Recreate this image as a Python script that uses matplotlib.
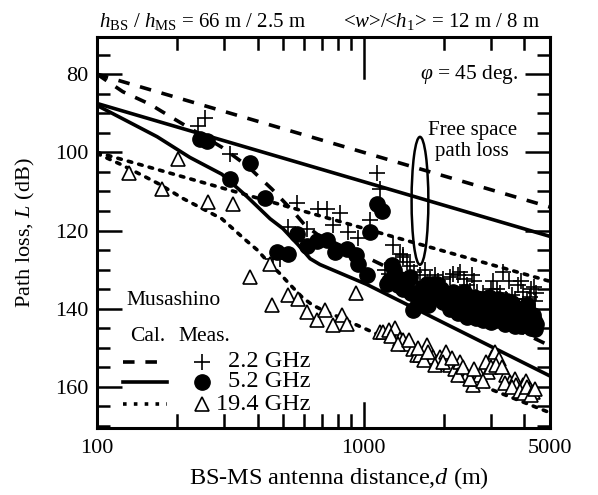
import matplotlib
matplotlib.use("Agg")
import matplotlib.pyplot as plt
import matplotlib.ticker as mticker
from matplotlib.patches import Ellipse
from matplotlib.lines import Line2D

plt.rcParams["font.family"] = ["Liberation Serif", "DejaVu Serif"]
plt.rcParams["mathtext.fontset"] = "custom"
plt.rcParams["mathtext.rm"] = "Liberation Serif"
plt.rcParams["mathtext.it"] = "Liberation Serif:italic"

# --------- data ---------
# free space path loss, straight lines on log axis
fs_d = [100, 5000]
fs_22 = [80.0, 114.0]
fs_52 = [87.5, 121.5]
fs_194 = [100.0, 133.0]

# calculated (model) curves
cal22_d = [100, 125, 158, 193, 294, 368, 453, 544, 600, 680, 1000, 5000]
cal22_L = [80.0, 84.5, 87.7, 91.3, 98.7, 103.6, 109.4, 115.1, 118.5, 121.3, 126.5, 149.5]

cal52_d = [100, 168, 223, 294, 365, 446, 498, 567, 630, 686, 1029, 5000]
cal52_L = [88.0, 96.0, 101.3, 105.6, 111.3, 117.0, 119.5, 123.6, 127.2, 128.7, 133.8, 157.2]

cal194_d = [100, 122, 151, 172, 210, 260, 294, 323, 359, 398, 438, 485, 529, 587,
            641, 718, 800, 930, 1100, 2000, 3050, 5000]
cal194_L = [100.3, 103.0, 106.2, 108.2, 111.8, 115.1, 117.0, 119.5, 122.3, 124.9, 128.0,
            131.0, 133.8, 137.0, 139.0, 140.7, 142.0, 144.0, 146.2, 154.5, 160.8, 166.6]

# measured 2.2 GHz
m22_d = [239, 254, 316, 457, 485, 520, 563, 612, 675, 730, 768, 815, 872, 950, 1055,
         1126, 1150, 1290, 1367, 1400, 1490, 1630, 1770, 1407, 1590, 1200, 1250, 1320,
         1900, 1990, 2100, 2165, 2250, 2370, 2450, 2600, 2670, 2740, 2900, 3000, 3160,
         3330, 3430, 3600, 3800, 3960, 4100, 4200, 4350, 4400,
         2000, 2300, 2500, 2550, 2800, 3050, 3250, 3500, 3700, 3900, 4250, 4450, 1700,
         1850, 1550, 1450]
m22_L = [93.3, 91.3, 100.5, 127.2, 127.4, 119.0, 113.0, 119.5, 114.6, 114.6, 118.5,
         115.6, 120.3, 122.0, 117.2, 105.4, 109.5, 123.6, 125.9, 126.7, 129.2, 131.3,
         132.3, 126.2, 133.8, 130.0, 131.0, 132.0, 133.0, 132.3, 132.0, 131.0, 131.5,
         132.3, 134.0, 133.0, 135.6, 137.4, 138.2, 135.0, 134.9, 130.5, 137.4, 136.5,
         134.0, 135.6, 137.4, 137.0, 134.5, 138.0,
         134.5, 130.5, 135.5, 131.5, 136.0, 133.0, 136.0, 133.0, 137.5, 133.0, 135.0,
         136.0, 130.0, 131.5, 130.5, 128.0]

# measured 5.2 GHz
m52_d = [243, 258, 375, 315, 427, 473, 520, 563, 612, 668, 730, 783, 865, 940, 950,
         1029, 1060, 1126, 1170, 1220, 1275, 1367, 1400, 1490, 1530, 1550, 1600, 1700,
         1725, 1820, 1880, 1990, 2100, 2165, 2300, 2370, 2500, 2600, 2740, 2800, 2900,
         3000, 3050, 3200, 3250, 3400, 3500, 3600, 3770, 3900, 4000, 4100, 4220, 4300,
         4400,
         1250, 1300, 1350, 1450, 1500, 1650, 1750, 1850, 1950, 2050, 2200, 2250, 2400,
         2450, 2550, 2650, 2700, 2850, 2950, 3100, 3150, 3300, 3350, 3450, 3550, 3650,
         3700, 3850, 3950, 4050, 4150, 4250, 4350, 4450]
m52_L = [96.7, 97.2, 102.8, 106.7, 111.8, 125.4, 126.0, 120.8, 124.0, 122.8, 122.3,
         125.4, 124.6, 126.2, 128.5, 131.3, 120.3, 113.3, 115.0, 133.8, 128.7, 132.3,
         135.0, 131.8, 140.3, 136.0, 138.5, 137.0, 133.8, 133.6, 133.8, 138.2, 140.0,
         135.6, 138.5, 135.6, 140.8, 137.0, 140.8, 143.0, 138.0, 143.5, 141.0, 137.5,
         141.5, 144.0, 140.0, 138.5, 142.6, 144.5, 141.0, 139.0, 143.3, 141.5, 145.1,
         133.0, 130.0, 134.0, 133.0, 136.0, 135.0, 139.0, 137.0, 135.0, 137.0, 136.5,
         141.0, 138.0, 142.0, 139.0, 142.5, 137.5, 140.0, 137.0, 139.0, 143.0, 139.5,
         142.5, 138.0, 143.0, 141.0, 144.5, 140.0, 142.0, 143.5, 142.0, 145.0, 143.0,
         144.0]

# measured 19.4 GHz
m194_d = [132, 175, 202, 261, 323, 375, 446, 453, 520, 567, 612, 668, 715, 767, 830,
          865, 940, 1150, 1180, 1240, 1310, 1370, 1400, 1450, 1530, 1580, 1630, 1725,
          1770, 1820, 1880, 1930, 2045, 2100, 2200, 2300, 2440, 2570, 2650, 2740, 2920,
          3040, 3100, 3230, 3430, 3540, 3700, 3740, 3950, 4050, 4200, 4320,
          1270, 1350, 1480, 1600, 1680, 1750, 1850, 1990, 2150, 2250, 2350, 2500, 2600,
          2800, 2870, 3000, 3150, 3300, 3380, 3600, 3850, 4000, 4100, 4250, 4400]
m194_L = [105.4, 109.5, 101.8, 112.6, 113.3, 131.8, 128.5, 139.0, 136.4, 137.4, 140.8,
          142.8, 140.3, 144.1, 141.5, 143.8, 136.0, 145.9, 146.0, 145.5, 145.0, 147.7,
          148.0, 149.0, 150.3, 151.8, 151.8, 149.2, 152.8, 152.3, 153.6, 152.3, 151.0,
          154.4, 155.5, 153.6, 156.9, 159.5, 158.0, 156.9, 156.2, 152.3, 151.0, 152.8,
          156.9, 158.7, 158.0, 159.5, 159.5, 158.5, 160.5, 161.3,
          147.0, 149.0, 148.0, 150.0, 153.0, 151.0, 154.5, 153.5, 152.5, 157.0, 155.0,
          158.0, 155.5, 158.5, 153.5, 155.0, 154.5, 155.0, 159.0, 160.0, 161.0, 161.5,
          160.0, 162.0, 160.5]

x_major = [100, 1000, 5000]
x_minor = [200, 300, 400, 500, 600, 700, 800, 900, 2000, 3000, 4000]
y_major = [80, 100, 120, 140, 160]
# ------------------------------------------------

LW = 2.6
dash = (0, (3.2, 3.0))
dot = (0, (1.0, 2.0))

fig = plt.figure(figsize=(5.98, 4.95), dpi=100)
ax = fig.add_axes([0.1622, 0.1354, 0.7575, 0.7899])

ax.plot(fs_d, fs_22, color="k", lw=LW, linestyle=dash)
ax.plot(fs_d, fs_52, color="k", lw=LW, linestyle="-")
ax.plot(fs_d, fs_194, color="k", lw=LW, linestyle=dot, dash_capstyle="round")
ax.plot(cal22_d, cal22_L, color="k", lw=LW, linestyle=dash)
ax.plot(cal52_d, cal52_L, color="k", lw=LW, linestyle="-")
ax.plot(cal194_d, cal194_L, color="k", lw=LW, linestyle=dot, dash_capstyle="round")

ax.plot(m52_d, m52_L, "o", ms=11, color="k", mec="k")
ax.plot(m22_d, m22_L, "+", ms=11, mew=1.2, color="k")
ax.plot(m194_d, m194_L, "^", ms=10.5, mfc="white", mec="k", mew=1.2)

ax.set_xscale("log")
ax.set_xlim(100, 5000)
ax.set_ylim(170.5, 70.5)
ax.xaxis.set_major_locator(mticker.FixedLocator(x_major))
ax.xaxis.set_major_formatter(mticker.FixedFormatter([str(v) for v in x_major]))
ax.xaxis.set_minor_locator(mticker.FixedLocator(x_minor))
ax.xaxis.set_minor_formatter(mticker.NullFormatter())
ax.yaxis.set_major_locator(mticker.FixedLocator(y_major))
ax.yaxis.set_minor_locator(mticker.MultipleLocator(5))

ax.tick_params(which="both", direction="in", top=False, right=True, width=1.8,
               labelsize=16, pad=6)
ax.tick_params(which="major", length=18)
ax.tick_params(which="minor", length=9.5)
ax.tick_params(axis="x", which="both", length=0, pad=8)
for s in ax.spines.values():
    s.set_linewidth(2.2)

# x ticks drawn as short lines: bottom and (longer) top ones
xt = ax.get_xaxis_transform()
for vals, lb, lt in [(x_major, 0.064, 0.104), (x_minor, 0.033, 0.031)]:
    for v in vals:
        ax.plot([v, v], [0, lb], transform=xt, color="k", lw=1.8, clip_on=False,
                zorder=5)
        ax.plot([v, v], [1, 1 - lt], transform=xt, color="k", lw=1.8, clip_on=False,
                zorder=5)

ax.set_xlabel("BS-MS antenna distance,$d$ (m)", fontsize=17.5, labelpad=5)
ax.xaxis.label.set_x(0.535)
ax.set_ylabel("Path loss, $L$ (dB)", fontsize=16, labelpad=13)

# annotations
ax.text(0.93, 0.905, r"$\varphi$ = 45 deg.", transform=ax.transAxes, fontsize=15.5,
        ha="right", va="center")
ax.text(0.828, 0.735, "Free space\npath loss", transform=ax.transAxes, fontsize=15,
        ha="center", va="center", linespacing=1.15)
ax.add_patch(Ellipse((0.713, 0.581), 0.037, 0.327, transform=ax.transAxes,
                     fill=False, lw=1.8, color="k"))

fig.text(0.165, 0.945, r"$h_{\rm BS}$ / $h_{\rm MS}$ = 66 m / 2.5 m", fontsize=15,
         ha="left", va="baseline")
fig.text(0.574, 0.945, r"<$w$>/<$h_{\rm 1}$> = 12 m / 8 m", fontsize=15,
         ha="left", va="baseline")

# legend drawn by hand
ax.text(0.066, 0.327, "Musashino", transform=ax.transAxes, fontsize=15.5, va="center")
ax.text(0.073, 0.233, "Cal.", transform=ax.transAxes, fontsize=15.5, va="center")
ax.text(0.179, 0.233, "Meas.", transform=ax.transAxes, fontsize=15.5, va="center")
rows = [(0.169, dash, "+", "2.2 GHz", 0.289),
        (0.118, "-", "o", "5.2 GHz", 0.289),
        (0.061, dot, "^", "19.4 GHz", 0.262)]
for yy, ls, mk, lab, tx in rows:
    ax.add_line(Line2D([0.057, 0.155], [yy, yy], transform=ax.transAxes, color="k",
                       lw=LW, linestyle=ls))
    if mk == "^":
        ax.add_line(Line2D([0.232], [yy], transform=ax.transAxes, marker=mk, ms=10,
                           mfc="white", mec="k", mew=1.2, linestyle="none"))
    elif mk == "o":
        ax.add_line(Line2D([0.232], [yy], transform=ax.transAxes, marker=mk, ms=11,
                           color="k", linestyle="none"))
    else:
        ax.add_line(Line2D([0.232], [yy], transform=ax.transAxes, marker=mk, ms=11,
                           mew=1.2, color="k", linestyle="none"))
    ax.text(tx, yy, lab, transform=ax.transAxes, fontsize=17.5, va="center")

fig.savefig("out.png", dpi=100)
